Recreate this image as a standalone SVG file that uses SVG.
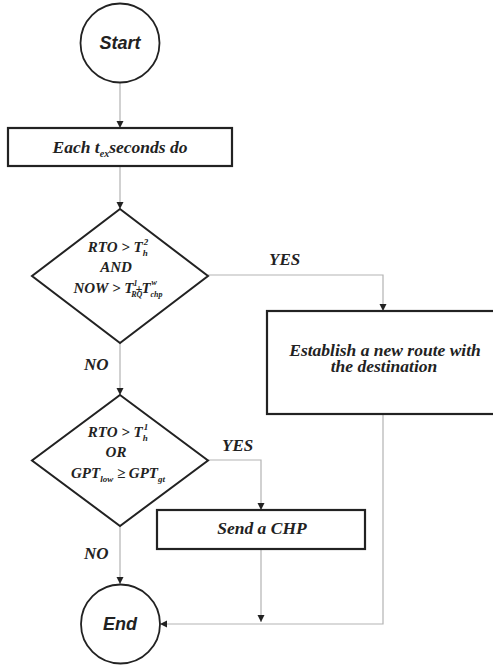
<svg xmlns="http://www.w3.org/2000/svg" width="493" height="665" viewBox="0 0 493 665">
<style>
.box{fill:#fff;stroke:#222;stroke-width:2.2}
.circ{fill:#fff;stroke:#222;stroke-width:1.8}
.dia{fill:#fff;stroke:#222;stroke-width:2}
.con{fill:none;stroke:#b3b3b3;stroke-width:1.2}
.t{font-family:"Liberation Serif","Times New Roman",serif;font-weight:bold;font-style:italic;fill:#222}
.s{font-family:"Liberation Sans",Arial,sans-serif;font-weight:bold;font-style:italic;fill:#222;font-size:18px}
.lbl{font-size:17px}
.big{font-size:17.5px}
.d{font-size:15px}
</style>
<defs>
<marker id="ah" markerUnits="userSpaceOnUse" markerWidth="8" markerHeight="8" refX="7" refY="4" orient="auto">
<path d="M0,0.5 L7,4 L0,7.5 z" fill="#222"/>
</marker>
</defs>
<rect width="493" height="665" fill="#fff"/>
<g id="connectors">
<path class="con" d="M120,82.5 V128" marker-end="url(#ah)"/>
<path class="con" d="M120,166 V209" marker-end="url(#ah)"/>
<path class="con" d="M208,275 H383 V311" marker-end="url(#ah)"/>
<path class="con" d="M120,343 V395" marker-end="url(#ah)"/>
<path class="con" d="M208,460 H261 V510" marker-end="url(#ah)"/>
<path class="con" d="M120,526 V584" marker-end="url(#ah)"/>
<path class="con" d="M261,549 V622" marker-end="url(#ah)"/>
<path class="con" d="M383,414 V624 H160" marker-end="url(#ah)"/>
</g>
<g id="start">
<circle class="circ" cx="120" cy="43" r="39.5"/>
<text class="s" x="120" y="49" text-anchor="middle">Start</text>
</g>
<g id="each">
<rect class="box" x="8" y="128" width="224" height="38"/>
<text class="t big" x="120" y="153" text-anchor="middle">Each t<tspan font-size="10" dy="4">ex</tspan><tspan dy="-4">seconds do</tspan></text>
</g>
<g id="decision1">
<polygon class="dia" points="120,209 208,276 120,343 32,276"/>
<text class="t d" x="118" y="252" text-anchor="middle">RTO &gt; T<tspan font-size="9" dy="4">h</tspan><tspan font-size="9" dx="-4" dy="-11">2</tspan></text>
<text class="t d" x="116" y="272" text-anchor="middle">AND</text>
<text class="t d" x="118" y="293" text-anchor="middle">NOW &gt; T<tspan font-size="8" dy="-7">1</tspan><tspan font-size="12" dx="-2" dy="7">+</tspan><tspan font-size="8" dx="-11" dy="4">RQ</tspan><tspan dx="-1" dy="-4">T</tspan><tspan font-size="8" dy="4">chp</tspan><tspan font-size="8" dx="-11" dy="-12">w</tspan></text>
</g>
<g id="label-yes1">
<text class="t lbl" x="269" y="265">YES</text>
</g>
<g id="establish">
<rect class="box" x="267" y="311" width="240" height="103"/>
<text class="t big" x="385" y="356" text-anchor="middle">Establish a new route with</text>
<text class="t big" x="384" y="372" text-anchor="middle">the destination</text>
</g>
<g id="label-no1">
<text class="t lbl" x="84" y="370">NO</text>
</g>
<g id="decision2">
<polygon class="dia" points="120,395 208,460.5 120,526 32,460.5"/>
<text class="t d" x="118" y="437" text-anchor="middle">RTO &gt; T<tspan font-size="9" dy="4">h</tspan><tspan font-size="9" dx="-4" dy="-11">1</tspan></text>
<text class="t d" x="116" y="457" text-anchor="middle">OR</text>
<text class="t d" x="118" y="478" text-anchor="middle">GPT<tspan font-size="9" dy="4">low</tspan><tspan dy="-4"> ≥  GPT</tspan><tspan font-size="9" dy="4">gt</tspan></text>
</g>
<g id="label-yes2">
<text class="t lbl" x="222" y="451">YES</text>
</g>
<g id="sendchp">
<rect class="box" x="157" y="510" width="208" height="39"/>
<text class="t big" x="262" y="534" text-anchor="middle">Send a CHP</text>
</g>
<g id="label-no2">
<text class="t lbl" x="84" y="559">NO</text>
</g>
<g id="end">
<circle class="circ" cx="120.5" cy="624" r="39.5"/>
<text class="s" x="120" y="630" text-anchor="middle">End</text>
</g>
</svg>
